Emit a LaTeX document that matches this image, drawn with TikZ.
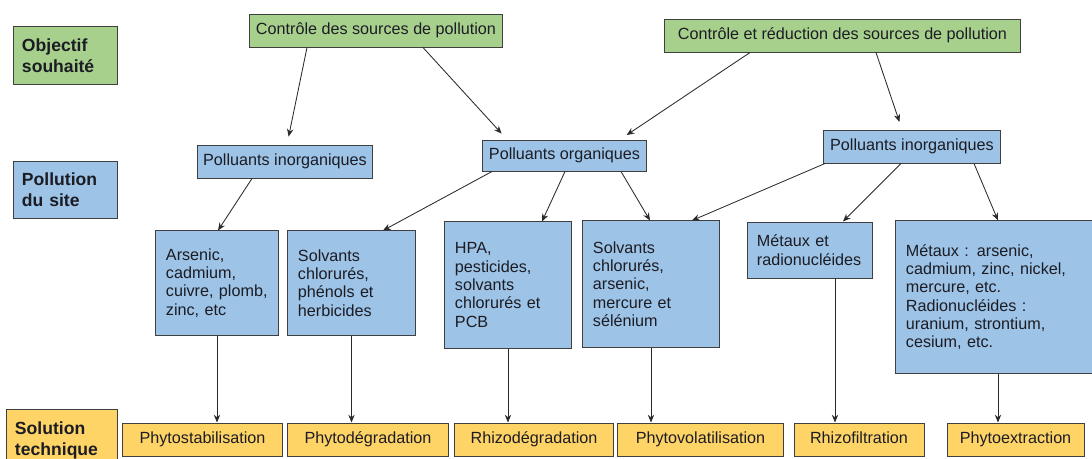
\documentclass[tikz,border=0pt]{standalone}
\usepackage{fontspec}
\setmainfont{Liberation Sans}
\usetikzlibrary{arrows.meta,calc}
\definecolor{goalgreen}{HTML}{A8D08D}
\definecolor{siteblue}{HTML}{9DC3E6}
\definecolor{solyellow}{HTML}{FFD466}
\definecolor{boxline}{HTML}{3F3F3F}
\definecolor{inkdark}{HTML}{1C1C24}
\definecolor{arrowgray}{HTML}{2A2A2A}

\begin{document}
\begin{tikzpicture}[x=0.025cm, y=-0.025cm,
  box/.style={draw=boxline, line width=0.7pt, text=inkdark, inner sep=0pt,
    font=\fontsize{11.5}{13}\selectfont},
  single/.style={minimum height=0.825cm, text height=8.5pt, text depth=2.5pt},
  goal/.style={box, single, fill=goalgreen},
  site/.style={box, fill=siteblue},
  list/.style={site, align=left, inner xsep=0.25cm},
  tech/.style={box, single, fill=solyellow},
  hdr/.style={box, align=left, inner xsep=0.2cm,
    font=\fontsize{12.5}{15}\selectfont\bfseries},
  arr/.style={draw=arrowgray, line width=0.6pt, -{Stealth[length=5.5pt,width=4.5pt]}},
  gap/.style={shorten >=0.2cm}]
\useasboundingbox (0,0) rectangle (1092,459);
\fill[white] (0,0) rectangle (1092,459);

\node[hdr, fill=goalgreen, text width=2.175cm, minimum height=1.425cm] (obj) at (65.5,55.5) {Objectif\\souhaité};
\node[hdr, fill=siteblue, text width=2.175cm, minimum height=1.4cm] (pol) at (65.5,190) {Pollution\\du site};
\node[hdr, fill=solyellow, text width=2.35cm, minimum height=1.575cm] (sol) at (62,440.5) {Solution\\technique};

\node[goal, minimum width=6.3cm] (c1) at (376,30.5) {Contrôle des sources de pollution};
\node[goal, minimum width=8.875cm] (c2) at (842.5,35.5) {Contrôle et réduction des sources de pollution};

\node[site, single, minimum width=4.35cm] (pi1) at (285,161.5) {Polluants inorganiques};
\node[site, single, minimum width=4.075cm, minimum height=0.775cm] (po) at (564.5,155.5) {Polluants organiques};
\node[site, single, minimum width=4.4cm] (pi2) at (912,146.5) {Polluants inorganiques};

\node[list, text width=2.55cm, minimum height=2.6cm] (b1) at (217,283) {Arsenic,\\cadmium,\\cuivre, plomb,\\zinc, etc};
\node[list, text width=2.675cm, minimum height=2.6cm] (b2) at (351.5,283) {Solvants\\chlorurés,\\phénols et\\herbicides};
\node[list, text width=2.65cm, minimum height=3.15cm] (b3) at (508,285) {HPA,\\pesticides,\\solvants\\chlorurés et\\PCB};
\node[list, text width=2.9cm, minimum height=3.15cm] (b4) at (651,284) {Solvants\\chlorurés,\\arsenic,\\mercure et\\sélénium};
\node[list, text width=2.625cm, minimum height=1.4cm] (b5) at (809.5,250) {Métaux et\\radionucléides};
\node[list, text width=4.6cm, minimum height=3.8cm] (b6) at (998,297) {Métaux : arsenic,\\cadmium, zinc, nickel,\\mercure, etc.\\Radionucléides :\\uranium, strontium,\\cesium, etc.};

\node[tech, minimum width=3.975cm] (y1) at (202.5,439.5) {Phytostabilisation};
\node[tech, minimum width=4cm] (y2) at (368,439.5) {Phytodégradation};
\node[tech, minimum width=3.95cm] (y3) at (534,439.5) {Rhizodégradation};
\node[tech, minimum width=4.125cm] (y4) at (700.5,439.5) {Phytovolatilisation};
\node[tech, minimum width=3.25cm] (y5) at (859,439.5) {Rhizofiltration};
\node[tech, minimum width=3.425cm] (y6) at (1015.5,439.5) {Phytoextraction};

\draw[arr, gap] ($(c1.south)+(-69,0)$) -- ($(pi1.north)+(2,0)$);
\draw[arr, gap] ($(c1.south)+(47,0)$) -- ($(po.north)+(-57.5,0)$);
\draw[arr, gap] ($(c2.south)+(-92.5,0)$) -- ($(po.north)+(55.5,0)$);
\draw[arr, gap] ($(c2.south)+(33.5,0)$) -- ($(pi2.north)+(-10,0)$);

\draw[arr] ($(pi1.south)+(-33,0)$) -- ($(b1.north)+(1,0)$);
\draw[arr] ($(po.south)+(-72.5,0)$) -- ($(b2.north)+(31.5,0)$);
\draw[arr] ($(po.south)+(0.5,0)$) -- ($(b3.north)+(34,0)$);
\draw[arr] ($(po.south)+(56.5,0)$) -- ($(b4.north)+(-1,0)$);
\draw[arr] ($(pi2.south)+(-87,0)$) -- ($(b4.north)+(41,0)$);
\draw[arr] ($(pi2.south)+(-11,0)$) -- ($(b5.north)+(33.5,0)$);
\draw[arr] ($(pi2.south)+(62,0)$) -- (b6.north);

\foreach \s/\t/\dx in {b1/y1/0, b2/y2/0, b3/y3/0, b4/y4/0, b5/y5/25.5, b6/y6/0} {
  \coordinate (top) at ($(\s.south)+(\dx,0)$);
  \draw[arr] (top) -- (top |- \t.north);
}
\end{tikzpicture}
\end{document}
